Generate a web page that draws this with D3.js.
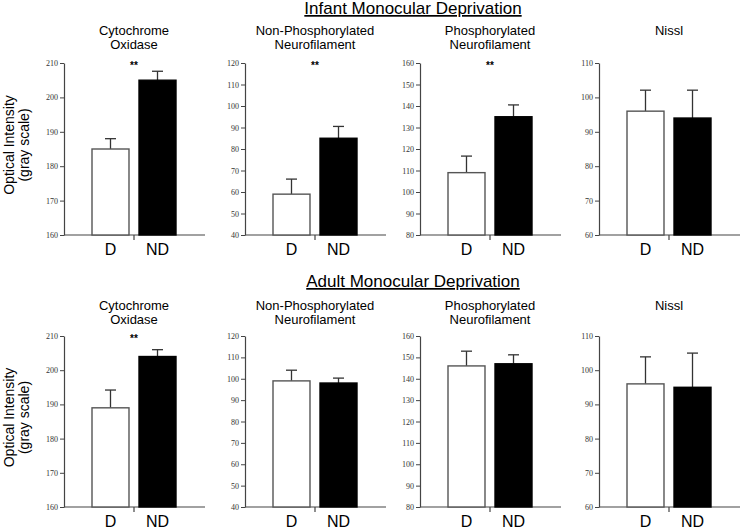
<!DOCTYPE html>
<html><head><meta charset="utf-8">
<script src="https://d3js.org/d3.v7.min.js"></script>
<style>body{margin:0;background:#fff}svg{display:block}</style>
</head><body>
<script>
const categories = ["D", "ND"];
const panelTitles = [["Cytochrome","Oxidase"],["Non-Phosphorylated","Neurofilament"],["Phosphorylated","Neurofilament"],["Nissl"]];
const yDomains = [[160,210],[40,120],[80,160],[60,110]];
const rowTitles = ["Infant Monocular Deprivation","Adult Monocular Deprivation"];
const infantMeans = [[185,205],[59,85],[109,135],[96,94]];
const infantErrors = [[3,2.6],[7,5.5],[7.7,5.5],[6.1,8.1]];
const infantSig = ["**","**","**",""];
const adultMeans = [[189,204],[99,98],[146,147],[96,95]];
const adultErrors = [[5.2,2],[5,2.3],[6.9,4.2],[7.9,10]];
const adultSig = ["**","","",""];
const yTitle = ["Optical Intensity","(gray scale)"];

const W=745,H=529;
const svg=d3.select("body").append("svg").attr("width",W).attr("height",H);
const axisX=[64,245,420,599];
const axisLen=141;
const rows=[
  {top:63,bottom:235,means:infantMeans,errs:infantErrors,sig:infantSig,titleY:14,subY:35,labelY:255},
  {top:336,bottom:507,means:adultMeans,errs:adultErrors,sig:adultSig,titleY:287,subY:310,labelY:527}
];
const axisCol="#444";
rows.forEach((r,ri)=>{
  svg.append("text").attr("x",413).attr("y",r.titleY).attr("text-anchor","middle")
    .attr("font-family","Liberation Sans, Arial, sans-serif").attr("font-size",17).attr("fill","#000")
    .attr("text-decoration","underline").text(rowTitles[ri]);
  const cy=(r.top+r.bottom)/2-4;
  yTitle.forEach((s,i)=>{
    svg.append("text").attr("transform",`translate(${14+i*15},${cy}) rotate(-90)`)
      .attr("text-anchor","middle").attr("font-family","Liberation Sans, Arial, sans-serif")
      .attr("font-size",14).text(s);
  });
  axisX.forEach((ax,pi)=>{
    const y=d3.scaleLinear().domain(yDomains[pi]).range([r.bottom,r.top]);
    const x=d3.scaleBand().domain(categories).range([ax+28,ax+112]).paddingInner(0.213).paddingOuter(0);
    const g=svg.append("g");
    const ya=g.append("g").attr("transform",`translate(${ax},0)`)
      .call(d3.axisLeft(y).tickValues(d3.range(yDomains[pi][0],yDomains[pi][1]+1,10)).tickSize(4).tickPadding(2).tickSizeOuter(0));
    ya.select(".domain").attr("stroke",axisCol).attr("stroke-width",1.2);
    ya.selectAll(".tick line").attr("stroke",axisCol);
    ya.selectAll(".tick text").attr("font-family","Liberation Serif, Times New Roman, serif").attr("font-size",8).attr("fill","#333");
    g.append("line").attr("x1",ax).attr("x2",ax+axisLen).attr("y1",r.bottom).attr("y2",r.bottom).attr("stroke",axisCol).attr("stroke-width",1.2);
    const mid=(x("D")+x.bandwidth()+x("ND"))/2;
    g.append("line").attr("x1",mid).attr("x2",mid).attr("y1",r.bottom).attr("y2",r.bottom+5).attr("stroke",axisCol).attr("stroke-width",1.2);
    categories.forEach((c,ci)=>{
      const v=r.means[pi][ci], e=r.errs[pi][ci];
      const bx=x(c), bw=x.bandwidth(), cx=bx+bw/2;
      g.append("line").attr("x1",cx).attr("x2",cx).attr("y1",y(v)).attr("y2",y(v+e)).attr("stroke","#333").attr("stroke-width",1.3);
      g.append("line").attr("x1",cx-5.5).attr("x2",cx+5.5).attr("y1",y(v+e)).attr("y2",y(v+e)).attr("stroke","#333").attr("stroke-width",1.3);
      g.append("rect").attr("x",bx).attr("y",y(v)).attr("width",bw).attr("height",y(yDomains[pi][0])-y(v))
        .attr("fill",ci===0?"#fff":"#000").attr("stroke",ci===0?"#555":"#000").attr("stroke-width",1.4);
      g.append("text").attr("x",cx).attr("y",r.labelY).attr("text-anchor","middle")
        .attr("font-family","Liberation Sans, Arial, sans-serif").attr("font-size",16).text(c);
    });
    if(r.sig[pi]) g.append("text").attr("x",mid).attr("y",r.top+6).attr("text-anchor","middle")
      .attr("font-family","Liberation Sans, Arial, sans-serif").attr("font-size",10).attr("font-weight","bold").text(r.sig[pi]);
    panelTitles[pi].forEach((s,li)=>{
      g.append("text").attr("x",mid).attr("y",r.subY+li*14).attr("text-anchor","middle")
        .attr("font-family","Liberation Sans, Arial, sans-serif").attr("font-size",13).text(s);
    });
  });
});
</script>
</body></html>
